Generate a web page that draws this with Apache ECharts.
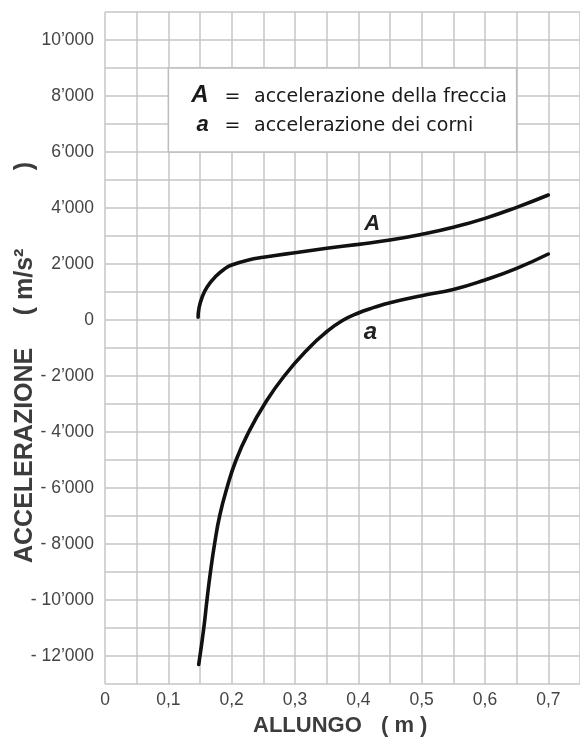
<!DOCTYPE html>
<html><head><meta charset="utf-8">
<script src="https://cdn.jsdelivr.net/npm/echarts@6/dist/echarts.min.js"></script>
<style>html,body{margin:0;padding:0;background:#fff}#c{width:580px;height:737px}</style>
</head><body><div id="c"></div>
<script>
// Curve A: accelerazione della freccia
const xA = [0.147, 0.1484, 0.1536, 0.1615, 0.1745, 0.190, 0.200, 0.2266, 0.25, 0.30, 0.35, 0.40, 0.45, 0.50, 0.55, 0.60, 0.65, 0.70];
const yA = [100, 420, 830, 1190, 1550, 1845, 1964, 2143, 2238, 2405, 2560, 2702, 2857, 3060, 3310, 3630, 4024, 4464];
// Curve a: accelerazione dei corni
const xa = [0.148, 0.156, 0.161, 0.1665, 0.173, 0.181, 0.1925, 0.207, 0.227, 0.252, 0.283, 0.322, 0.35, 0.375, 0.40, 0.425, 0.45, 0.50, 0.55, 0.60, 0.65, 0.70];
const ya = [-12300, -11000, -10000, -9000, -8000, -7000, -6000, -5000, -4000, -3000, -2000, -1000, -420, -20, 250, 450, 620, 870, 1090, 1430, 1845, 2357];
// Tick labels
const xTicks = [0, 0.1, 0.2, 0.3, 0.4, 0.5, 0.6, 0.7];
const xTickLabels = ['0', '0,1', '0,2', '0,3', '0,4', '0,5', '0,6', '0,7'];
const yTicks = [-12000, -10000, -8000, -6000, -4000, -2000, 0, 2000, 4000, 6000, 8000, 10000];
const yTickLabels = ['- 12\u2019000', '- 10\u2019000', '- 8\u2019000', '- 6\u2019000', '- 4\u2019000', '- 2\u2019000', '0', '2\u2019000', '4\u2019000', '6\u2019000', '8\u2019000', '10\u2019000'];
const legendLines = [['A', 'accelerazione della freccia'], ['a', 'accelerazione dei corni']];

const gridColor = '#c6c6c6';
const tickFont = '"Liberation Sans", Arial, sans-serif';

function lookup(ticks, labels, v, eps) {
  for (let i = 0; i < ticks.length; i++) if (Math.abs(ticks[i] - v) < eps) return labels[i];
  return '';
}
function txt(x, y, text, font, align, rot, fill) {
  const el = {type: 'text', x: x, y: y, z: 100, style: {text: text, font: font, fill: fill || '#1a1a1a', align: align, verticalAlign: 'middle', textAlign: align, textVerticalAlign: 'middle'}};
  if (rot) el.rotation = rot;
  return el;
}

const chart = echarts.init(document.getElementById('c'), null, {renderer: 'canvas'});
chart.setOption({
  animation: false,
  backgroundColor: '#fff',
  grid: {left: 105, top: 12, width: 480, height: 672, show: false},
  xAxis: {
    type: 'value', min: 0, max: 0.75, interval: 0.05,
    axisLine: {show: false}, axisTick: {show: false},
    splitLine: {show: true, lineStyle: {color: gridColor, width: 1.5}},
    axisLabel: {
      margin: 7, color: '#444', fontFamily: tickFont, fontSize: 17.5,
      showMaxLabel: false,
      formatter: v => lookup(xTicks, xTickLabels, v, 1e-6)
    }
  },
  yAxis: {
    type: 'value', min: -13000, max: 11000, interval: 1000,
    axisLine: {show: false}, axisTick: {show: false},
    splitLine: {show: true, lineStyle: {color: gridColor, width: 1.5}},
    axisLabel: {
      margin: 11, color: '#444', fontFamily: tickFont, fontSize: 17.5,
      formatter: v => lookup(yTicks, yTickLabels, v, 1e-3)
    }
  },
  series: [
    {
      type: 'line', name: 'A', data: xA.map((x, i) => [x, yA[i]]),
      showSymbol: false, smooth: 0.5,
      lineStyle: {color: '#111', width: 3.6, cap: 'round'},
      markArea: {
        silent: true,
        itemStyle: {color: '#fff', borderColor: '#bdbdbd', borderWidth: 1.5},
        data: [[{coord: [0.1, 9000]}, {coord: [0.65, 6000]}]]
      },
      markPoint: {
        symbol: 'circle', symbolSize: 1, itemStyle: {color: 'rgba(0,0,0,0)'},
        label: {show: true, position: 'inside', formatter: 'A', fontSize: 22, fontWeight: 'bold', fontStyle: 'italic', fontFamily: 'Liberation Sans', color: '#222'},
        data: [{coord: [0.422, 3430]}]
      }
    },
    {
      type: 'line', name: 'a', data: xa.map((x, i) => [x, ya[i]]),
      showSymbol: false, smooth: 0.5,
      lineStyle: {color: '#111', width: 3.6, cap: 'round'},
      markPoint: {
        symbol: 'circle', symbolSize: 1, itemStyle: {color: 'rgba(0,0,0,0)'},
        label: {show: true, position: 'inside', formatter: 'a', fontSize: 24, fontWeight: 'bold', fontStyle: 'italic', fontFamily: 'Liberation Sans', color: '#222'},
        data: [{coord: [0.419, -430]}]
      }
    }
  ],
  graphic: [
    // legend text
    txt(200, 95, legendLines[0][0], 'italic bold 24px "Liberation Sans"', 'center'),
    txt(232.5, 96.7, '=', '19px "DejaVu Sans"', 'center'),
    txt(254, 96.7, legendLines[0][1], '19px "DejaVu Sans"', 'left'),
    txt(202.5, 124.9, legendLines[1][0], 'italic bold 22px "Liberation Sans"', 'center'),
    txt(232.5, 126.1, '=', '19px "DejaVu Sans"', 'center'),
    txt(254, 126.1, legendLines[1][1], '19px "DejaVu Sans"', 'left'),
    // x axis name
    txt(253, 725.5, 'ALLUNGO', 'bold 22px "Liberation Sans"', 'left', 0, '#3c3c3c'),
    txt(381, 725.5, '( m )', 'bold 22px "Liberation Sans"', 'left', 0, '#3c3c3c'),
    // y axis name (rotated, reads bottom to top)
    txt(25, 563, 'ACCELERAZIONE', 'bold 25px "Liberation Sans"', 'left', Math.PI / 2, '#3c3c3c'),
    txt(25, 311, '(', 'bold 25px "Liberation Sans"', 'center', Math.PI / 2, '#3c3c3c'),
    txt(25, 300, 'm/s\u00b2', 'bold 25px "Liberation Sans"', 'left', Math.PI / 2, '#3c3c3c'),
    txt(25, 166, ')', 'bold 25px "Liberation Sans"', 'center', Math.PI / 2, '#3c3c3c')
  ]
});
</script></body></html>
